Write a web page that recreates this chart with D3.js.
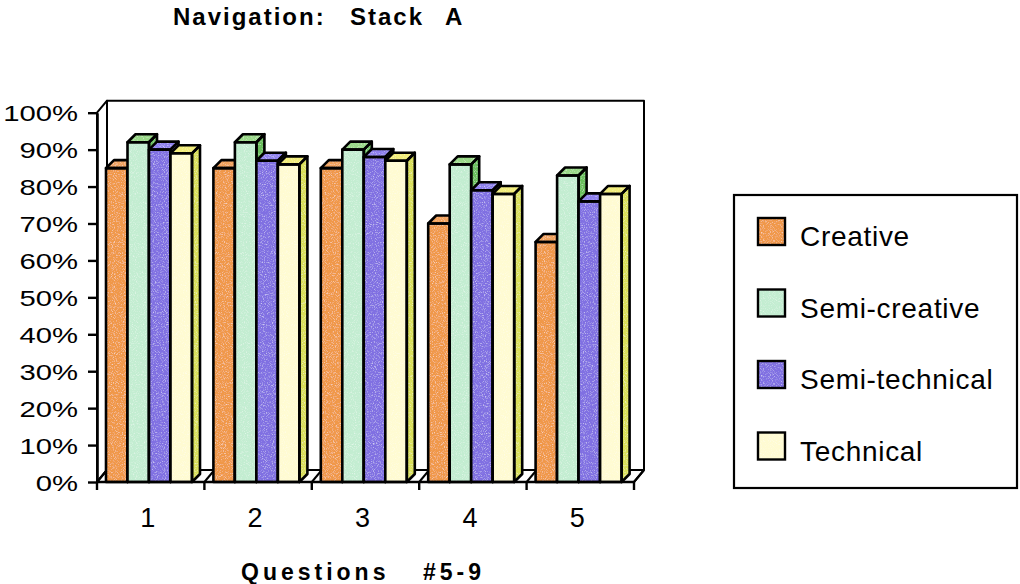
<!DOCTYPE html>
<html>
<head>
<meta charset="utf-8">
<script src="https://cdn.jsdelivr.net/npm/d3@7"></script>
<style>
  html, body { margin: 0; padding: 0; background: #ffffff; }
  svg { display: block; font-family: "Liberation Sans", Arial, Helvetica, sans-serif; }
</style>
</head>
<body>
<svg id="chart" width="1020" height="584"></svg>
<script>
// Share of correct navigation answers, Stack A, by user group
const questions = ["1", "2", "3", "4", "5"];
const series = ["Creative", "Semi-creative", "Semi-technical", "Technical"];
const creative      = [85, 85, 85, 70, 65];
const semiCreative  = [92, 92, 90, 86, 83];
const semiTechnical = [90, 87, 88, 79, 76];
const technical     = [89, 86, 87, 78, 78];
const yTicks = [0, 10, 20, 30, 40, 50, 60, 70, 80, 90, 100];

const values = [creative, semiCreative, semiTechnical, technical];

// face colours per series: front, top, right side
const palette = [
  { front: "#f0984a", top: "#f2a35c", side: "#de8a42" },
  { front: "#c3edd1", top: "#99d887", side: "#69bf5b" },
  { front: "#8070e2", top: "#8e80ee", side: "#6858cf" },
  { front: "#fffbd2", top: "#f1ec78", side: "#d9df58" }
];

const svg = d3.select("#chart");

// light coloured-pencil grain for the filled faces
const defs = svg.append("defs");
const grain = defs.append("filter").attr("id", "grain")
  .attr("x", "-5%").attr("y", "-5%").attr("width", "110%").attr("height", "110%");
grain.append("feTurbulence").attr("type", "fractalNoise").attr("baseFrequency", "0.9")
  .attr("numOctaves", 2).attr("seed", 7).attr("result", "noise");
grain.append("feColorMatrix").attr("in", "noise").attr("type", "matrix")
  .attr("values", "0 0 0 0 1  0 0 0 0 1  0 0 0 0 1  1.4 0 0 0 -0.72").attr("result", "specks");
grain.append("feComposite").attr("in", "specks").attr("in2", "SourceGraphic")
  .attr("operator", "in").attr("result", "specksIn");
const merge = grain.append("feMerge");
merge.append("feMergeNode").attr("in", "SourceGraphic");
merge.append("feMergeNode").attr("in", "specksIn");

// front plane of the 3D box
const x = d3.scaleBand().domain(questions).range([97, 634]);
const y = d3.scaleLinear().domain([0, 100]).range([482, 112.7]);
// depth of the walls / floor, and of the columns
const wallDx = 10, wallDy = -12;
const barDx = 8, barDy = -8;
// columns inside each category
const xs = d3.scaleBand().domain(series).range([9, 95]);

const ink = "#000";

// ---- walls and floor ----
const [x0, x1] = x.range();
const y0 = y(0), yTop = y(100);
const box = svg.append("g").attr("fill", "#fff").attr("stroke", ink)
  .attr("stroke-width", 2).attr("stroke-linejoin", "round");

// back wall
box.append("path").attr("d",
  `M${x0 + wallDx},${y0 + wallDy} L${x0 + wallDx},${yTop + wallDy} L${x1 + wallDx},${yTop + wallDy} L${x1 + wallDx},${y0 + wallDy}`);
// left wall
box.append("path").attr("d",
  `M${x0},${y0} L${x0},${yTop} L${x0 + wallDx},${yTop + wallDy} L${x0 + wallDx},${y0 + wallDy} Z`);
// floor
box.append("path").attr("d",
  `M${x0},${y0} L${x1},${y0} L${x1 + wallDx},${y0 + wallDy} L${x0 + wallDx},${y0 + wallDy} Z`);

// category divisions across the floor
const bounds = questions.map(q => x(q)).concat([x1]);
box.selectAll("line.div").data(bounds).join("line").attr("class", "div")
  .attr("x1", d => d).attr("y1", y0).attr("x2", d => d + wallDx).attr("y2", y0 + wallDy);

// ---- 3D columns ----
const columns = svg.append("g");

questions.forEach((q, qi) => {
  series.forEach((s, si) => {
    const v = values[si][qi];
    const bx = x(q) + xs(s);
    const bw = xs.bandwidth();
    const top = y(v);
    const c = palette[si];
    const faces = [
      { fill: c.front, d: `M${bx},${top} L${bx + bw},${top} L${bx + bw},${y0} L${bx},${y0} Z` },
      { fill: c.top, d: `M${bx},${top} L${bx + barDx},${top + barDy} L${bx + bw + barDx},${top + barDy} L${bx + bw},${top} Z` },
      { fill: c.side, d: `M${bx + bw},${top} L${bx + bw + barDx},${top + barDy} L${bx + bw + barDx},${y0 + barDy} L${bx + bw},${y0} Z` }
    ];
    // each column is painted (fill, then outline) before the next one covers it
    const g = columns.append("g");
    const fg = g.append("g").attr("filter", "url(#grain)");
    const eg = g.append("g").attr("fill", "none").attr("stroke", ink)
      .attr("stroke-width", 2.6).attr("stroke-linejoin", "round");
    faces.forEach(f => {
      fg.append("path").attr("d", f.d).attr("fill", f.fill);
      eg.append("path").attr("d", f.d);
    });
  });
});

// ---- value axis ----
const yAxis = svg.append("g").attr("transform", `translate(${x0},0)`)
  .call(d3.axisLeft(y).tickValues(yTicks).tickFormat(d => d + "%").tickSize(9).tickSizeOuter(0));
yAxis.select(".domain").attr("stroke", ink).attr("stroke-width", 2.6);
yAxis.selectAll(".tick line").attr("stroke", ink).attr("stroke-width", 2.4);
yAxis.selectAll(".tick text")
  .attr("x", null).attr("dy", null)
  .attr("transform", "translate(-19,8) scale(1.33,1)")
  .attr("fill", ink).style("font-size", "22px");

// ---- category axis ----
const tickMarks = svg.append("g").attr("stroke", ink).attr("stroke-width", 2.4);
tickMarks.selectAll("line").data(bounds).join("line")
  .attr("x1", d => d).attr("x2", d => d).attr("y1", y0).attr("y2", y0 + 8);
svg.append("line").attr("x1", x0).attr("x2", x1).attr("y1", y0).attr("y2", y0)
  .attr("stroke", ink).attr("stroke-width", 2.6);

const xAxis = svg.append("g").attr("transform", `translate(-3,${y0})`)
  .call(d3.axisBottom(x).tickSize(0).tickPadding(0));
xAxis.select(".domain").remove();
xAxis.selectAll(".tick text").attr("y", 45).attr("dy", null)
  .attr("fill", ink).style("font-size", "27px");

// ---- titles ----
const title = svg.append("text").attr("y", 25).attr("fill", ink)
  .style("font-size", "24px").style("font-weight", "bold").style("letter-spacing", "2px");
title.append("tspan").attr("x", 173).text("Navigation:");
title.append("tspan").attr("x", 350).text("Stack");
title.append("tspan").attr("x", 445).text("A");

const xTitle = svg.append("text").attr("y", 580).attr("fill", ink)
  .style("font-size", "23px").style("font-weight", "bold").style("letter-spacing", "4px");
xTitle.append("tspan").attr("x", 241).text("Questions");
xTitle.append("tspan").attr("x", 423).text("#5-9");

// ---- legend ----
const legend = svg.append("g");
legend.append("rect").attr("x", 734).attr("y", 195).attr("width", 283).attr("height", 293)
  .attr("fill", "#fff").attr("stroke", ink).attr("stroke-width", 2.2);
const ly = d3.scalePoint().domain(series).range([218, 432.5]);
const item = legend.selectAll("g.item").data(series).join("g").attr("class", "item")
  .attr("transform", d => `translate(758,${ly(d)})`);
item.append("rect").attr("width", 27).attr("height", 27)
  .attr("fill", (d, i) => palette[i].front).attr("filter", "url(#grain)");
item.append("rect").attr("width", 27).attr("height", 27)
  .attr("fill", "none").attr("stroke", ink).attr("stroke-width", 2.4);
item.append("text").attr("x", 42).attr("y", 28).attr("fill", ink)
  .style("font-size", "28px").style("letter-spacing", "0.7px").text(d => d);
</script>
</body>
</html>
